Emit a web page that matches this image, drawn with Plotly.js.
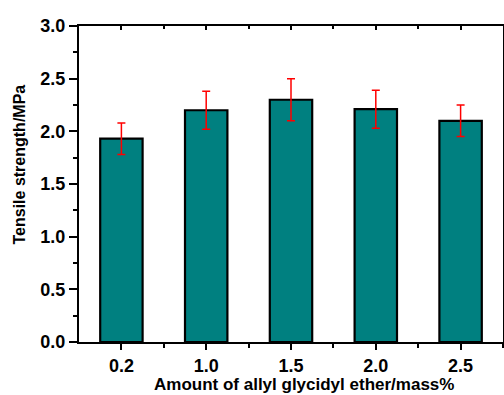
<!DOCTYPE html>
<html><head><meta charset="utf-8">
<script src="https://cdn.plot.ly/plotly-3.0.1.min.js"></script>
<style>html,body{margin:0;padding:0;background:#fff}#c{width:504px;height:395px}</style>
</head><body><div id="c"></div>
<script>
const categories = ["0.2", "1.0", "1.5", "2.0", "2.5"];
const strength = [1.93, 2.20, 2.30, 2.21, 2.10];
const errors = [0.15, 0.18, 0.20, 0.18, 0.15];
const yTicks = [0.0, 0.5, 1.0, 1.5, 2.0, 2.5, 3.0];
const yTickText = ["0.0", "0.5", "1.0", "1.5", "2.0", "2.5", "3.0"];
const xTitle = "Amount of allyl glycidyl ether/mass%";
const yTitle = "Tensile strength/MPa";

const xpos = categories.map((_, i) => i);
const xMinor = categories.slice(0, -1).map((_, i) => i + 0.5).concat([categories.length - 0.5]);
const fam = "Liberation Sans, Arial, sans-serif";

const data = [{
  type: "bar", x: xpos, y: strength, width: 0.5,
  marker: {color: "#008080", line: {color: "#000", width: 2.2}},
  error_y: {type: "data", array: errors, visible: true, color: "#ff0000", thickness: 1.5, width: 4},
  hoverinfo: "none"
}, {type: "scatter", x: [xpos[0]], y: [strength[0]], xaxis: "x2", mode: "none", hoverinfo: "none", showlegend: false}];

const layout = {
  width: 504, height: 395,
  margin: {l: 79, r: 1, t: 26, b: 53},
  paper_bgcolor: "#fff", plot_bgcolor: "#fff",
  showlegend: false,
  font: {family: fam, size: 15, color: "#000"},
  xaxis: {
    range: [-0.5, categories.length - 0.5], tickmode: "array", tickvals: xpos, ticktext: categories,
    ticks: "outside", ticklen: 6, tickwidth: 2, tickcolor: "#000",
    minor: {tickmode: "array", tickvals: xMinor, ticks: "outside", ticklen: 4, tickwidth: 2, tickcolor: "#000"},
    showline: true, linecolor: "#000", linewidth: 2, mirror: true, showgrid: false, zeroline: false,
    tickfont: {family: fam, size: 18, color: "#000", weight: "bold"}
  },
  yaxis: {
    range: [0, 3.0], tickmode: "array", tickvals: yTicks, ticktext: yTickText,
    ticks: "outside", ticklen: 8, tickwidth: 2, tickcolor: "#000",
    minor: {dtick: 0.25, ticks: "outside", ticklen: 4, tickwidth: 2, tickcolor: "#000"},
    showline: true, linecolor: "#000", linewidth: 2, mirror: true, showgrid: false, zeroline: false,
    tickfont: {family: fam, size: 18, color: "#000", weight: "bold"}
  },
  xaxis2: {
    overlaying: "x", side: "top", matches: "x", range: [-0.5, categories.length - 0.5],
    tickmode: "array", tickvals: xpos, ticks: "inside", ticklen: 4, tickwidth: 2, tickcolor: "#000",
    minor: {tickmode: "array", tickvals: xMinor, ticks: "inside", ticklen: 3, tickwidth: 2, tickcolor: "#000"},
    showticklabels: false, showgrid: false, zeroline: false, showline: false
  },
  annotations: [
    {text: "<b>" + xTitle + "</b>", xref: "paper", yref: "paper", x: 0.531, y: 0, xanchor: "center", yanchor: "middle",
     yshift: -42, showarrow: false, font: {family: fam, size: 17, color: "#000"}},
    {text: "<b>" + yTitle + "</b>", xref: "paper", yref: "paper", x: 0, y: 0.5617, xanchor: "center", yanchor: "middle",
     xshift: -59, textangle: -90, showarrow: false, font: {family: fam, size: 16, color: "#000"}}
  ]
};

Plotly.newPlot("c", data, layout, {staticPlot: true});
</script></body></html>
